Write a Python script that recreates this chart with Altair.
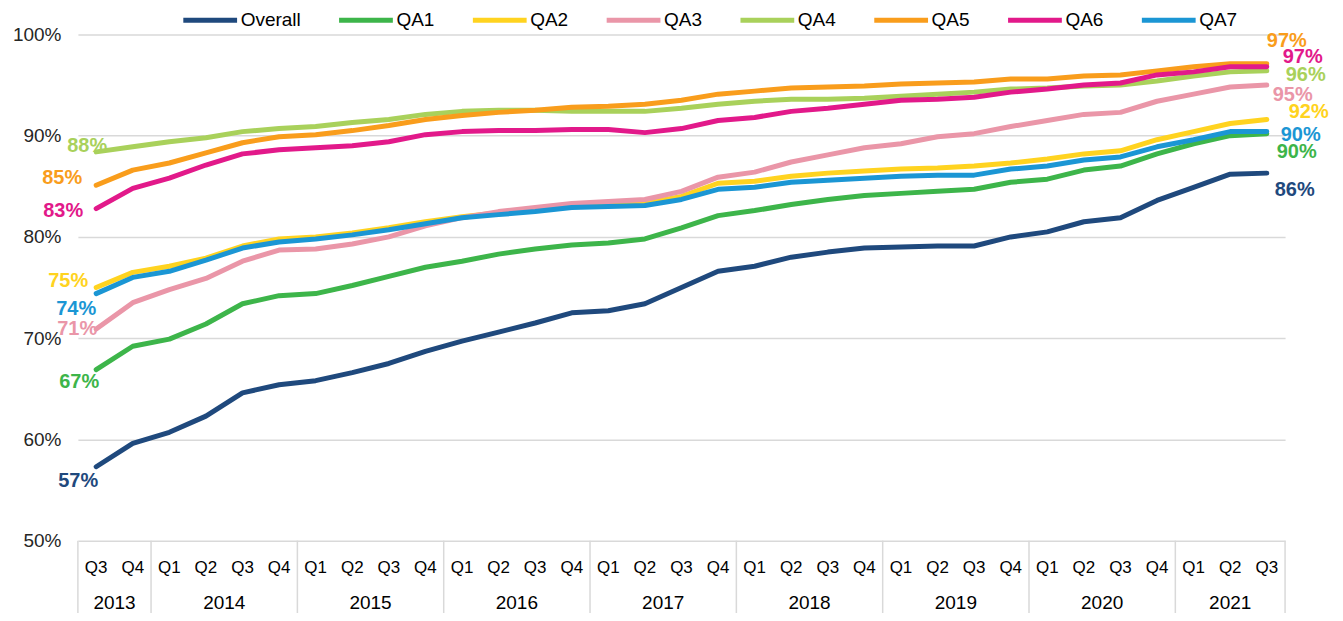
import altair as alt
import pandas as pd

quarters = ["Q3", "Q4",
            "Q1", "Q2", "Q3", "Q4",
            "Q1", "Q2", "Q3", "Q4",
            "Q1", "Q2", "Q3", "Q4",
            "Q1", "Q2", "Q3", "Q4",
            "Q1", "Q2", "Q3", "Q4",
            "Q1", "Q2", "Q3", "Q4",
            "Q1", "Q2", "Q3", "Q4",
            "Q1", "Q2", "Q3"]
years = ["2013", "2013",
         "2014", "2014", "2014", "2014",
         "2015", "2015", "2015", "2015",
         "2016", "2016", "2016", "2016",
         "2017", "2017", "2017", "2017",
         "2018", "2018", "2018", "2018",
         "2019", "2019", "2019", "2019",
         "2020", "2020", "2020", "2020",
         "2021", "2021", "2021"]

series_names = ["Overall", "QA1", "QA2", "QA3", "QA4", "QA5", "QA6", "QA7"]
series_colors = ["#1F497D", "#3DB54A", "#FFD320", "#EA96A8", "#A9D15B", "#F99D1C", "#E2198A", "#1B96D4"]

overall = [57.3, 59.6, 60.7, 62.3, 64.6, 65.4, 65.8, 66.6, 67.5, 68.7, 69.7, 70.6, 71.5, 72.5, 72.7, 73.4,
           75.0, 76.6, 77.1, 78.0, 78.5, 78.9, 79.0, 79.1, 79.1, 80.0, 80.5, 81.5, 81.9, 83.6, 84.9, 86.2, 86.3]
qa1 = [66.9, 69.2, 69.9, 71.4, 73.4, 74.2, 74.4, 75.2, 76.1, 77.0, 77.6, 78.3, 78.8, 79.2, 79.4, 79.8,
       80.9, 82.1, 82.6, 83.2, 83.7, 84.1, 84.3, 84.5, 84.7, 85.4, 85.7, 86.6, 87.0, 88.2, 89.2, 90.0, 90.2]
qa2 = [75.0, 76.5, 77.1, 77.9, 79.1, 79.8, 80.0, 80.4, 80.9, 81.5, 82.0, 82.4, 82.6, 83.0, 83.2, 83.3,
       84.0, 85.3, 85.5, 86.0, 86.3, 86.5, 86.7, 86.8, 87.0, 87.3, 87.7, 88.2, 88.5, 89.6, 90.4, 91.2, 91.6]
qa3 = [70.9, 73.5, 74.8, 75.9, 77.6, 78.7, 78.8, 79.3, 80.0, 81.1, 81.9, 82.5, 82.9, 83.3, 83.5, 83.7,
       84.5, 85.9, 86.4, 87.4, 88.1, 88.8, 89.2, 89.9, 90.2, 90.9, 91.5, 92.1, 92.3, 93.4, 94.1, 94.8, 95.0]
qa4 = [88.4, 88.9, 89.4, 89.8, 90.4, 90.7, 90.9, 91.3, 91.6, 92.1, 92.4, 92.5, 92.5, 92.4, 92.4, 92.4,
       92.7, 93.1, 93.4, 93.6, 93.6, 93.7, 93.9, 94.1, 94.3, 94.6, 94.7, 94.9, 95.0, 95.4, 95.9, 96.3, 96.4]
qa5 = [85.1, 86.6, 87.3, 88.3, 89.3, 89.9, 90.1, 90.5, 91.0, 91.6, 92.0, 92.3, 92.5, 92.8, 92.9, 93.1,
       93.5, 94.1, 94.4, 94.7, 94.8, 94.9, 95.1, 95.2, 95.3, 95.6, 95.6, 95.9, 96.0, 96.4, 96.8, 97.1, 97.1]
qa6 = [82.8, 84.8, 85.8, 87.1, 88.2, 88.6, 88.8, 89.0, 89.4, 90.1, 90.4, 90.5, 90.5, 90.6, 90.6, 90.3,
       90.7, 91.5, 91.8, 92.4, 92.7, 93.1, 93.5, 93.6, 93.8, 94.3, 94.6, 95.0, 95.2, 96.0, 96.3, 96.8, 96.8]
qa7 = [74.4, 76.0, 76.6, 77.7, 78.9, 79.5, 79.8, 80.2, 80.7, 81.3, 81.9, 82.2, 82.5, 82.9, 83.0, 83.1,
       83.7, 84.7, 84.9, 85.4, 85.6, 85.8, 86.0, 86.1, 86.1, 86.7, 87.0, 87.6, 87.9, 88.9, 89.6, 90.4, 90.4]

all_values = [overall, qa1, qa2, qa3, qa4, qa5, qa6, qa7]

# label offsets (style): (dx, dy) for first and last point labels
start_offsets = [(-18, 14), (-17, 12), (-28, -7), (-19, 0), (-9, -6), (-34, -7), (-33, 2), (-20, 15)]
end_offsets = [(28, 17), (30, 18), (42, -7), (26, 10), (39, 4), (20, -23), (36, -10), (34, 3)]

FONT = "Liberation Sans"
W, H = 1209, 507
n = len(quarters)

rows = []
for name, vals in zip(series_names, all_values):
    for i, v in enumerate(vals):
        rows.append({"series": name, "idx": i, "v": v})
df = pd.DataFrame(rows)

cat = pd.DataFrame({"idx": list(range(n)), "q": quarters, "year": years})
year_df = cat.groupby("year").agg(center=("idx", "mean"), lo=("idx", "min"), hi=("idx", "max")).reset_index()
bounds = sorted(set([b - 0.5 for b in year_df["lo"]] + [b + 0.5 for b in year_df["hi"]]))
bound_df = pd.DataFrame({"b": bounds})

xscale = alt.Scale(domain=[-0.5, n - 0.5], nice=False, zero=False)
yscale = alt.Scale(domain=[50, 100], nice=False, zero=False)
cscale = alt.Scale(domain=series_names, range=series_colors)

x_enc = alt.X("idx:Q", scale=xscale, axis=None)
y_enc = alt.Y("v:Q", scale=yscale,
              axis=alt.Axis(values=[50, 60, 70, 80, 90, 100], labelExpr="datum.value + '%'",
                            title=None, domain=False, ticks=False, grid=True,
                            gridColor="#D9D9D9", gridWidth=1.5, labelFont=FONT,
                            labelFontSize=19, labelColor="#262626", labelPadding=17))

layers = []
for k, name in enumerate(series_names):
    sub = df[df["series"] == name]
    legend = None
    if k == 0:
        legend = alt.Legend(orient="none", legendX=103, legendY=-44, direction="horizontal",
                            columns=8, title=None, symbolType="stroke", symbolStrokeWidth=5,
                            symbolSize=2900, labelFontSize=19, labelFont=FONT, labelColor="#000000",
                            columnPadding=27, labelOffset=1, padding=0)
    layers.append(
        alt.Chart(sub).mark_line(strokeWidth=5, strokeCap="round", strokeJoin="round").encode(
            x=x_enc, y=y_enc,
            color=alt.Color("series:N", scale=cscale, legend=legend)
        )
    )

for k, name in enumerate(series_names):
    sub = df[df["series"] == name]
    for part, (dx, dy) in (("first", start_offsets[k]), ("last", end_offsets[k])):
        pt = sub[sub["idx"] == (0 if part == "first" else n - 1)]
        layers.append(
            alt.Chart(pt).transform_calculate(lab="format(datum.v, '.0f') + '%'").mark_text(
                font=FONT, fontSize=20, fontWeight="bold", dx=dx, dy=dy,
                align="center", baseline="middle", color=series_colors[k]
            ).encode(x=x_enc, y=alt.Y("v:Q", scale=yscale), text="lab:N")
        )

# category axis (two-level)
layers.append(
    alt.Chart(cat).mark_text(font=FONT, fontSize=17, color="#000000", baseline="middle").encode(
        x=x_enc, y=alt.value(H + 27), text="q:N")
)
layers.append(
    alt.Chart(year_df).mark_text(font=FONT, fontSize=19, color="#000000", baseline="middle").encode(
        x=alt.X("center:Q", scale=xscale, axis=None), y=alt.value(H + 62), text="year:N")
)
layers.append(
    alt.Chart(bound_df).mark_rule(color="#D9D9D9", strokeWidth=1.5).encode(
        x=alt.X("b:Q", scale=xscale, axis=None), y=alt.value(H), y2=alt.value(H + 80))
)

chart = alt.layer(*layers).properties(
    width=W, height=H,
    autosize=alt.AutoSizeParams(type="none"),
    padding={"left": 70, "top": 26, "right": 50, "bottom": 72},
).configure_view(stroke=None)

chart.save("out.html", embed_options={"renderer": "svg", "actions": False})
